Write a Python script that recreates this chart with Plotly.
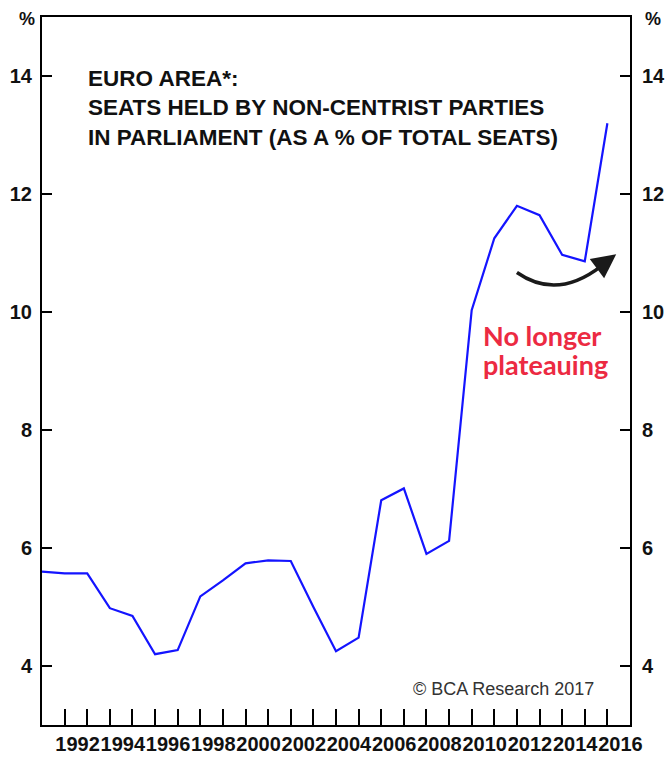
import plotly.graph_objects as go

# ---------------- data ----------------
years = list(range(1991, 2017))
seats_pct = [5.60, 5.57, 5.57, 4.98, 4.85, 4.20, 4.27, 5.18, 5.45, 5.74,
             5.79, 5.78, 5.00, 4.25, 4.48, 6.81, 7.01, 5.90, 6.12, 10.03,
             11.25, 11.80, 11.64, 10.97, 10.86, 13.20]

x_tick_years = list(range(1992, 2017))
x_tick_text = [str(y) if y % 2 == 0 else "" for y in x_tick_years]
y_ticks = [4, 6, 8, 10, 12, 14]

title_lines = ["EURO AREA*:",
               "SEATS HELD BY NON-CENTRIST PARTIES",
               "IN PARLIAMENT (AS A % OF TOTAL SEATS)"]
callout_lines = ["No longer", "plateauing"]
credit = "© BCA Research 2017"

# ---------------- layout geometry (page pixels) ----------------
W, H = 669, 757
L, R, T, B = 41.5, 630, 16.5, 725   # plot frame in page pixels


def px_x(px):
    return (px - L) / (R - L)


def px_y(py):
    return (B - py) / (B - T)


fig = go.Figure()
fig.add_trace(go.Scatter(x=years, y=seats_pct, mode="lines",
                         line=dict(color="#1414ff", width=2.2),
                         showlegend=False, hoverinfo="skip"))
# invisible twin so the right-hand axis is drawn
fig.add_trace(go.Scatter(x=years, y=seats_pct, mode="lines", yaxis="y2",
                         line=dict(color="rgba(0,0,0,0)", width=0),
                         showlegend=False, hoverinfo="skip"))

FONT = "Liberation Sans, Arial, sans-serif"
tick_font = dict(family=FONT, size=20, color="#111111", weight="bold")

fig.update_layout(
    width=W, height=H,
    margin=dict(l=L, r=W - R, t=T, b=H - B, autoexpand=False),
    paper_bgcolor="white", plot_bgcolor="white",
    xaxis=dict(range=[1991, 2017], tickvals=x_tick_years, ticktext=x_tick_text,
               ticks="inside", ticklen=16, tickwidth=2, tickcolor="black",
               showline=True, linewidth=2, linecolor="black", mirror=True,
               showgrid=False, zeroline=False,
               tickfont=dict(family=FONT, size=20, color="#111111",
                             weight="bold"),
               ticklabelshift=13, ticklabelstandoff=0, tickangle=0),
    yaxis=dict(range=[3, 15], tickvals=y_ticks, ticks="inside", ticklen=10,
               tickwidth=2, tickcolor="black", showline=True, linewidth=2,
               linecolor="black", showgrid=False, zeroline=False,
               tickfont=tick_font, ticklabelstandoff=4),
    yaxis2=dict(range=[3, 15], tickvals=y_ticks, ticks="inside", ticklen=10,
                tickwidth=2, tickcolor="black", showline=True, linewidth=2,
                linecolor="black", showgrid=False, zeroline=False,
                overlaying="y", side="right", tickfont=tick_font,
                ticklabelstandoff=6),
)

annotations = []
# title lines
for i, line in enumerate(title_lines):
    annotations.append(dict(
        xref="paper", yref="paper", x=px_x(86), y=px_y(78 + i * 29.5),
        xanchor="left", yanchor="middle", showarrow=False, text=line,
        font=dict(family=FONT, size=22.5, color="#111111", weight="bold")))
# red callout
for i, line in enumerate(callout_lines):
    annotations.append(dict(
        xref="paper", yref="paper", x=px_x(481), y=px_y(335 + i * 29.5),
        xanchor="left", yanchor="middle", showarrow=False, text=line,
        font=dict(family="Lato, sans-serif", size=27, color="#ec2a42",
                  weight="bold")))
# credit
annotations.append(dict(
    xref="paper", yref="paper", x=px_x(503), y=px_y(689),
    xanchor="center", yanchor="middle", showarrow=False, text=credit,
    font=dict(family=FONT, size=18, color="#333333")))
# % unit labels
for xx in (26, 653):
    annotations.append(dict(
        xref="paper", yref="paper", x=px_x(xx), y=px_y(19),
        xanchor="center", yanchor="middle", showarrow=False, text="%",
        font=dict(family=FONT, size=18, color="#111111", weight="bold")))
# arrow head
annotations.append(dict(
    xref="x", yref="y", axref="x", ayref="y",
    x=2016.39, y=10.98, ax=2015.55, ay=10.74,
    showarrow=True, arrowhead=2, arrowsize=1.6, arrowwidth=3,
    arrowcolor="#1a1a1a", text=""))
fig.update_layout(annotations=annotations)

# curved arrow shaft
fig.add_shape(type="path", xref="x", yref="y",
              path="M 2012.0,10.67 Q 2013.76,10.2 2015.7,10.77",
              line=dict(color="#1a1a1a", width=3.5))

# remove the page's default 8px body margin so the figure fills the window
page_js = ("document.body.style.margin='0';"
           "document.body.style.overflow='hidden';")

fig.write_html("out.html", post_script=page_js,
               config={"displayModeBar": False})
